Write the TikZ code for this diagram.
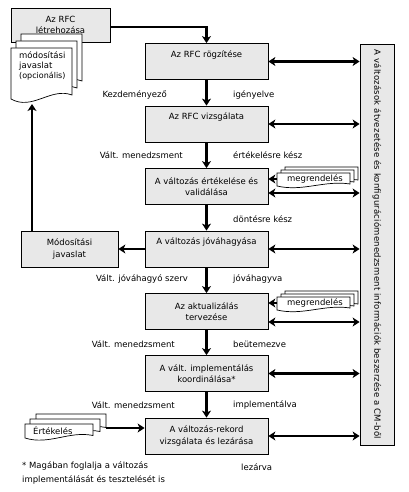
\documentclass[tikz,border=0pt]{standalone}
\usepackage{fontspec}
\setmainfont{DejaVu Sans}
\usetikzlibrary{arrows.meta,calc}
\definecolor{boxgray}{RGB}{232,232,232}
% document shape: x1, ytop, x2, ybottom(left corner), wave amplitude
\newcommand\mydoc[5]{%
  \draw[docline] (#1,#2) -- (#3,#2) -- (#3,{#4-#5})
    .. controls ({#1+0.65*(#3-#1)},{#4-3*#5}) and ({#1+0.35*(#3-#1)},{#4+3*#5}) .. (#1,#4) -- cycle;}
\begin{document}
\begin{tikzpicture}[x=1pt,y=-1pt,
  every node/.style={font=\fontsize{8.5}{11.5}\selectfont, inner sep=0pt},
  box/.style={draw, fill=boxgray, line width=0.8pt, minimum width=123pt, minimum height=36pt, align=center},
  arr/.style={line width=2.5pt, -{Stealth[length=7pt,width=9pt,inset=2pt]}},
  darr/.style={line width=2.5pt, {Stealth[length=7pt,width=9pt,inset=2pt]}-{Stealth[length=7pt,width=9pt,inset=2pt]}},
  docline/.style={draw, fill=white, line width=0.7pt},
  lab/.style={anchor=east},
  rlab/.style={anchor=west}]
\useasboundingbox (0,0) rectangle (409,492);

% left top box
\node[box, minimum width=99pt, minimum height=34pt] (rl) at (60.5,25) {Az RFC\\létrehozása};

% main column
\node[box] (b1) at (206.5,61.5) {Az RFC rögzítése\\\strut};
\node[box] (b2) at (206.5,124) {Az RFC vizsgálata\\\strut};
\node[box] (b3) at (206.5,186.5) {A változás értékelése és\\validálása};
\node[box] (b4) at (206.5,249) {A változás jóváhagyása\\\strut};
\node[box] (b5) at (206.5,311.5) {Az aktualizálás\\tervezése};
\node[box] (b6) at (206.5,373.5) {A vált. implementálás\\koordinálása*};
\node[box] (b7) at (206.5,436) {A változás-rekord\\vizsgálata és lezárása};

% tall right box
\node[box, rotate=-90, minimum width=401pt, minimum height=34pt,
      font=\fontsize{8.5}{10}\selectfont\addfontfeature{LetterSpace=2.5}] (cm) at (377,244.5)
  {A változások átvezetése és konfigurációmenedzsment információk beszerzése a CM-ből};

% proposal box
\node[box, minimum width=97pt, minimum height=36pt] (mj) at (69.5,249) {Módosítási\\javaslat};

% document stack: módosítási javaslat
\mydoc{21}{34}{82}{85}{4}
\mydoc{16}{41}{77}{92}{4}
\mydoc{11}{48}{72}{99}{4}
\node[anchor=north west, align=left, font=\fontsize{8.5}{10}\selectfont] (mjtext) at (19,52)
  {módosítási\\javaslat\\{\fontsize{8}{10}\selectfont(opcionális)}};
\coordinate (mjdoc) at (32,104);

% document stacks: megrendelés
\mydoc{285}{167}{358}{182}{2}
\mydoc{281}{170}{354}{184}{2}
\mydoc{277}{173}{350}{186}{2}
\node[anchor=west] (mr1) at (287,179) {megrendelés};
\coordinate (mr1doc) at (277,179);

\mydoc{285}{291}{358}{306}{2}
\mydoc{281}{294}{354}{308}{2}
\mydoc{277}{297}{350}{310}{2}
\node[anchor=west] (mr2) at (287,303) {megrendelés};
\coordinate (mr2doc) at (277,303);

% document stack: Értékelés
\mydoc{36}{414}{106}{430}{2.5}
\mydoc{30}{419}{100}{434}{2.5}
\mydoc{25}{424}{93}{438}{2.5}
\node[anchor=west] (ert) at (33,431) {Értékelés};
\coordinate (ertdoc) at (106,428);

% connectors
\draw[arr] ([yshift=-2pt]rl.east) -- ([yshift=-2pt]rl.east -| b1.north) -- (b1.north);
\draw[arr] (b1) -- (b2);
\draw[arr] (b2) -- (b3);
\draw[arr] (b3) -- (b4);
\draw[arr] (b4) -- (b5);
\draw[arr] (b5) -- (b6);
\draw[arr] (b6) -- (b7);

\draw[darr] (b1.east) -- (b1.east -| cm.south);
\draw[darr] (b2.east) -- (b2.east -| cm.south);
\draw[darr] ([yshift=-6.5pt]b3.east) -- ([yshift=-6.5pt]b3.east -| cm.south);
\draw[darr] (b4.east) -- (b4.east -| cm.south);
\draw[darr] ([yshift=-10.5pt]b5.east) -- ([yshift=-10.5pt]b5.east -| cm.south);
\draw[darr] (b6.east) -- (b6.east -| cm.south);
\draw[darr] (b7.east) -- (b7.east -| cm.south);

\draw[arr] (mr1doc) -- (mr1doc -| b3.east);
\draw[arr] (mr2doc) -- (mr2doc -| b5.east);
\draw[arr] (ertdoc) -- (ertdoc -| b7.west);
\draw[arr] (b4.west) -- (mj.east);
\draw[arr] (mj.north -| mjdoc) -- (mjdoc);

% state labels
\node[lab] (l1) at (167,95) {Kezdeményező};
\node[rlab] (r1) at (233,95) {igényelve};
\node[lab] (l2) at (183,155) {Vált. menedzsment};
\node[rlab] (r2) at (233,155) {értékelésre kész};
\node[rlab] (r3) at (233,219) {döntésre kész};
\node[lab] (l4) at (188,279) {Vált. jóváhagyó szerv};
\node[rlab] (r4) at (233,279) {jóváhagyva};
\node[lab] (l5) at (175,344) {Vált. menedzsment};
\node[rlab] (r5) at (233,344) {beütemezve};
\node[lab] (l6) at (175,405) {Vált. menedzsment};
\node[rlab] (r6) at (233,405) {implementálva};
\node[rlab] (r7) at (241,467) {lezárva};

% footnote
\node[anchor=north west, align=left, font=\fontsize{8.5}{14.5}\selectfont] (fn) at (22,461)
  {* Magában foglalja a változás\\implementálását és tesztelését is};
\end{tikzpicture}
\end{document}
